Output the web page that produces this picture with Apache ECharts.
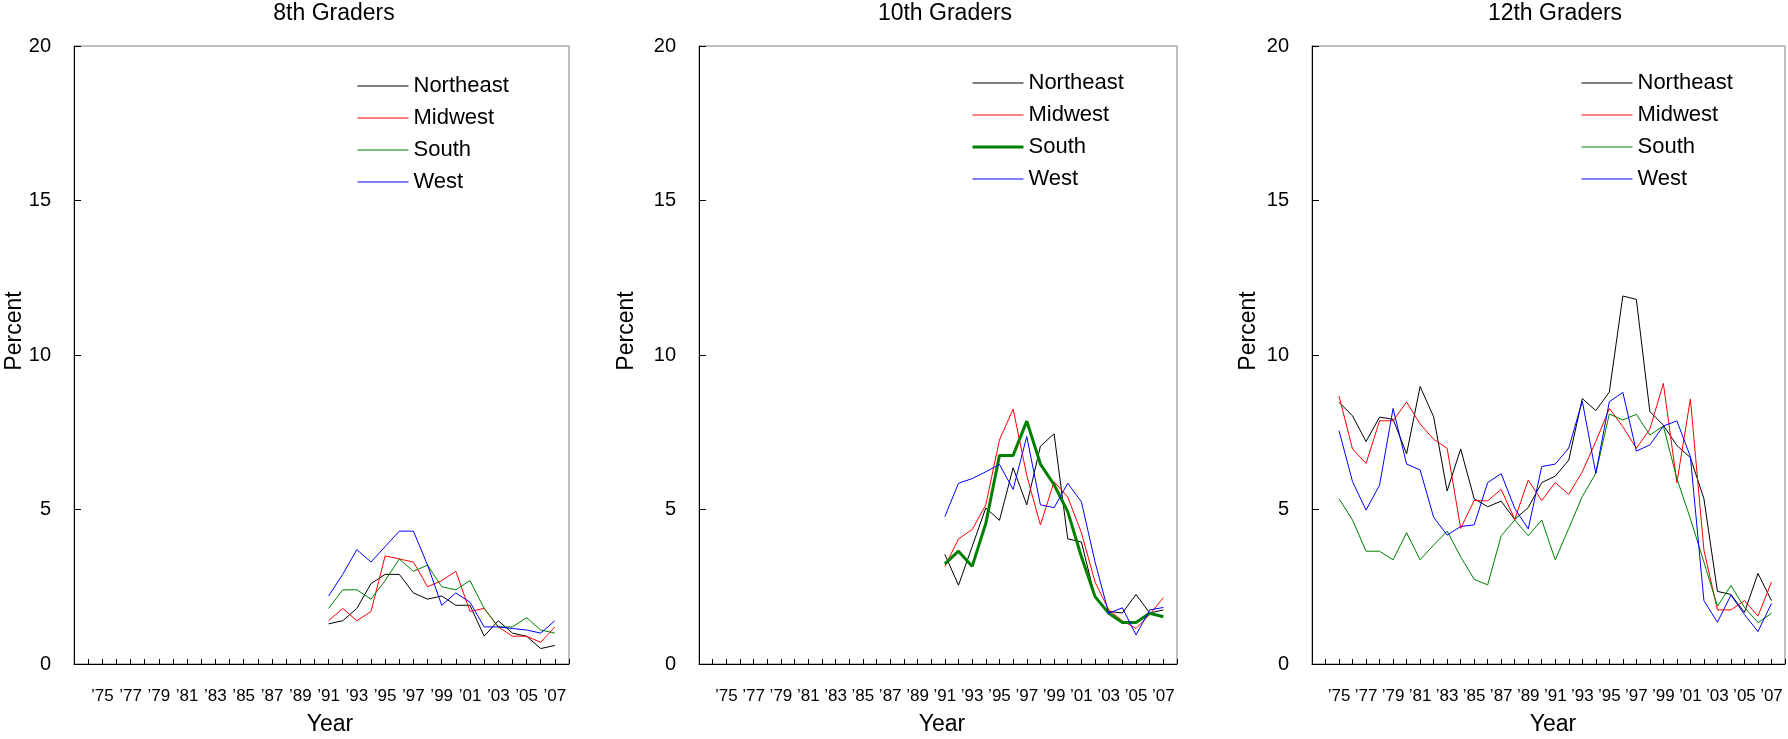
<!DOCTYPE html>
<html>
<head>
<meta charset="utf-8">
<title>Regional trends</title>
<script src="https://cdn.jsdelivr.net/npm/echarts@6/dist/echarts.min.js"></script>
<style>
  html, body { margin: 0; padding: 0; background: #fff; overflow: hidden; }
  .panel { position: absolute; top: 0; height: 739px; }
</style>
</head>
<body>
<div class="panel" id="p8" style="left:0;width:600px"></div>
<div class="panel" id="p10" style="left:600px;width:600px"></div>
<div class="panel" id="p12" style="left:1200px;width:588px"></div>
<script>
  // years
  var years91 = [1991, 1992, 1993, 1994, 1995, 1996, 1997, 1998, 1999, 2000, 2001, 2002, 2003, 2004, 2005, 2006, 2007];
  var years75 = [1975, 1976, 1977, 1978, 1979, 1980, 1981, 1982, 1983, 1984, 1985, 1986, 1987, 1988, 1989, 1990,
    1991, 1992, 1993, 1994, 1995, 1996, 1997, 1998, 1999, 2000, 2001, 2002, 2003, 2004, 2005, 2006, 2007];
  var regions = ['Northeast', 'Midwest', 'South', 'West'];
  var yTicks = [0, 5, 10, 15, 20];

  // 8th graders (from 1991)
  var g8Northeast = [1.3, 1.4, 1.8, 2.6, 2.9, 2.9, 2.3, 2.1, 2.2, 1.9, 1.9, 0.9, 1.4, 1.0, 0.9, 0.5, 0.6];
  var g8Midwest = [1.4, 1.8, 1.4, 1.7, 3.5, 3.4, 3.3, 2.5, 2.7, 3.0, 1.7, 1.8, 1.2, 0.9, 0.9, 0.7, 1.2];
  var g8South = [1.8, 2.4, 2.4, 2.1, 2.7, 3.4, 3.0, 3.2, 2.5, 2.4, 2.7, 1.8, 1.2, 1.2, 1.5, 1.1, 1.0];
  var g8West = [2.2, 2.9, 3.7, 3.3, 3.8, 4.3, 4.3, 3.2, 1.9, 2.3, 2.0, 1.2, 1.2, 1.15, 1.1, 1.0, 1.4];

  // 10th graders (from 1991)
  var g10Northeast = [3.55, 2.55, 3.8, 5.05, 4.65, 6.35, 5.15, 7.05, 7.45, 4.05, 3.95, 2.15, 1.7, 1.65, 2.25, 1.65, 1.75];
  var g10Midwest = [3.15, 4.05, 4.35, 5.15, 7.25, 8.25, 6.1, 4.5, 5.9, 5.4, 4.25, 2.65, 1.75, 1.4, 1.15, 1.6, 2.15];
  var g10South = [3.24, 3.65, 3.16, 4.55, 6.75, 6.75, 7.86, 6.47, 5.8, 4.93, 3.47, 2.18, 1.64, 1.34, 1.34, 1.64, 1.53];
  var g10West = [4.77, 5.85, 6.0, 6.22, 6.46, 5.65, 7.36, 5.15, 5.06, 5.85, 5.25, 3.3, 1.64, 1.82, 0.94, 1.75, 1.83];

  // 12th graders (from 1975)
  var g12Northeast = [8.47, 8.03, 7.2, 7.99, 7.92, 6.8, 8.98, 8.0, 5.6, 6.96, 5.35, 5.09, 5.27, 4.68, 5.06, 5.87,
    6.08, 6.6, 8.59, 8.2, 8.8, 11.91, 11.8, 8.17, 7.73, 7.07, 6.68, 5.35, 2.35, 2.25, 1.67, 2.93, 2.05];
  var g12Midwest = [8.67, 6.96, 6.49, 7.87, 7.87, 8.48, 7.77, 7.27, 6.98, 4.39, 5.29, 5.28, 5.65, 4.68, 5.95, 5.29,
    5.87, 5.49, 6.22, 7.2, 8.27, 7.68, 6.98, 7.6, 9.08, 5.87, 8.58, 3.69, 1.75, 1.75, 2.05, 1.55, 2.65];
  var g12South = [5.35, 4.66, 3.65, 3.65, 3.37, 4.25, 3.37, 3.85, 4.3, 3.47, 2.74, 2.56, 4.15, 4.66, 4.15, 4.66,
    3.37, 4.39, 5.42, 6.17, 8.09, 7.9, 8.08, 7.41, 7.7, 6.0, 4.7, 3.3, 1.87, 2.54, 1.83, 1.34, 1.64];
  var g12West = [7.55, 5.9, 4.98, 5.79, 8.27, 6.47, 6.28, 4.75, 4.17, 4.45, 4.5, 5.87, 6.16, 5.04, 4.37, 6.39,
    6.47, 6.99, 8.51, 6.17, 8.49, 8.79, 6.89, 7.09, 7.7, 7.87, 6.71, 2.05, 1.35, 2.23, 1.6, 1.05, 1.96];

  var FONT = '"Liberation Sans", Arial, sans-serif';
  var colors = ['#000000', '#ff0000', '#008000', '#0000ff'];

  function pairs(xs, ys) {
    return xs.map(function (x, i) { return [x, ys[i]]; });
  }

  function txt(x, y, text, size, rot) {
    return {
      type: 'text', x: x, y: y, rotation: rot || 0, silent: true,
      style: { text: text, fill: '#000', fontSize: size, fontFamily: FONT, align: 'center', verticalAlign: 'middle' }
    };
  }

  function makePanel(id, cfg) {
    var chart = echarts.init(document.getElementById(id));
    var widthOf = function (i) { return cfg.thick === i ? 3 : 1; };
    var series = cfg.data.map(function (vals, i) {
      return {
        name: regions[i],
        type: 'line',
        symbol: 'none',
        animation: false,
        data: pairs(cfg.years, vals),
        lineStyle: { color: colors[i], width: widthOf(i) },
        itemStyle: { color: colors[i] }
      };
    });
    chart.setOption({
      backgroundColor: '#fff',
      animation: false,
      textStyle: { fontFamily: FONT },
      grid: {
        left: cfg.gridLeft, top: 46, width: cfg.gridWidth, height: 618,
        show: true, borderColor: '#808080', borderWidth: 1
      },
      legend: {
        orient: 'vertical',
        left: cfg.legendLeft,
        top: cfg.legendTop,
        padding: 0,
        itemWidth: 51,
        itemHeight: 14,
        itemGap: 10,
        selectedMode: false,
        itemStyle: { opacity: 0 }, // hide the circle, keep the line
        textStyle: { fontSize: 22, color: '#000', fontFamily: FONT, lineHeight: 22 },
        data: regions.map(function (r, i) {
          return { name: r, lineStyle: { width: widthOf(i) } };
        })
      },
      xAxis: {
        type: 'value',
        min: 1973,
        max: 2008,
        interval: 1,
        axisLine: { onZero: false, lineStyle: { color: '#000', width: 1 } },
        axisTick: { inside: true, length: 5, lineStyle: { color: '#000' } },
        splitLine: { show: false },
        axisLabel: {
          color: '#000', fontSize: 17, margin: 24, fontFamily: FONT,
          formatter: function (v) {
            if (v < 1975 || v > 2007 || v % 2 === 0) return '';
            return '\u2019' + String(v).slice(2);
          }
        }
      },
      yAxis: {
        type: 'value',
        min: yTicks[0],
        max: yTicks[yTicks.length - 1],
        interval: 5,
        axisLine: { show: true, onZero: false, lineStyle: { color: '#000', width: 1 } },
        axisTick: { show: true, inside: true, length: 7, lineStyle: { color: '#000' } },
        splitLine: { show: false },
        axisLabel: { color: '#000', fontSize: 20, margin: 23, fontFamily: FONT }
      },
      graphic: [
        txt(cfg.titleX, 14, cfg.title, 23),
        txt(cfg.yearX, 725, 'Year', 23),
        txt(cfg.percentX, 331, 'Percent', 23, Math.PI / 2)
      ],
      series: series
    });
    return chart;
  }

  makePanel('p8', {
    title: '8th Graders', years: years91,
    data: [g8Northeast, g8Midwest, g8South, g8West],
    gridLeft: 74, gridWidth: 495,
    legendLeft: 357, legendTop: 75,
    titleX: 334, yearX: 330, percentX: 15
  });
  makePanel('p10', {
    title: '10th Graders', years: years91,
    data: [g10Northeast, g10Midwest, g10South, g10West],
    thick: 2,
    gridLeft: 99, gridWidth: 478,
    legendLeft: 371, legendTop: 72,
    titleX: 345, yearX: 342, percentX: 27
  });
  makePanel('p12', {
    title: '12th Graders', years: years75,
    data: [g12Northeast, g12Midwest, g12South, g12West],
    gridLeft: 112, gridWidth: 474,
    legendLeft: 381, legendTop: 72,
    titleX: 355, yearX: 353, percentX: 49
  });
</script>
</body>
</html>
